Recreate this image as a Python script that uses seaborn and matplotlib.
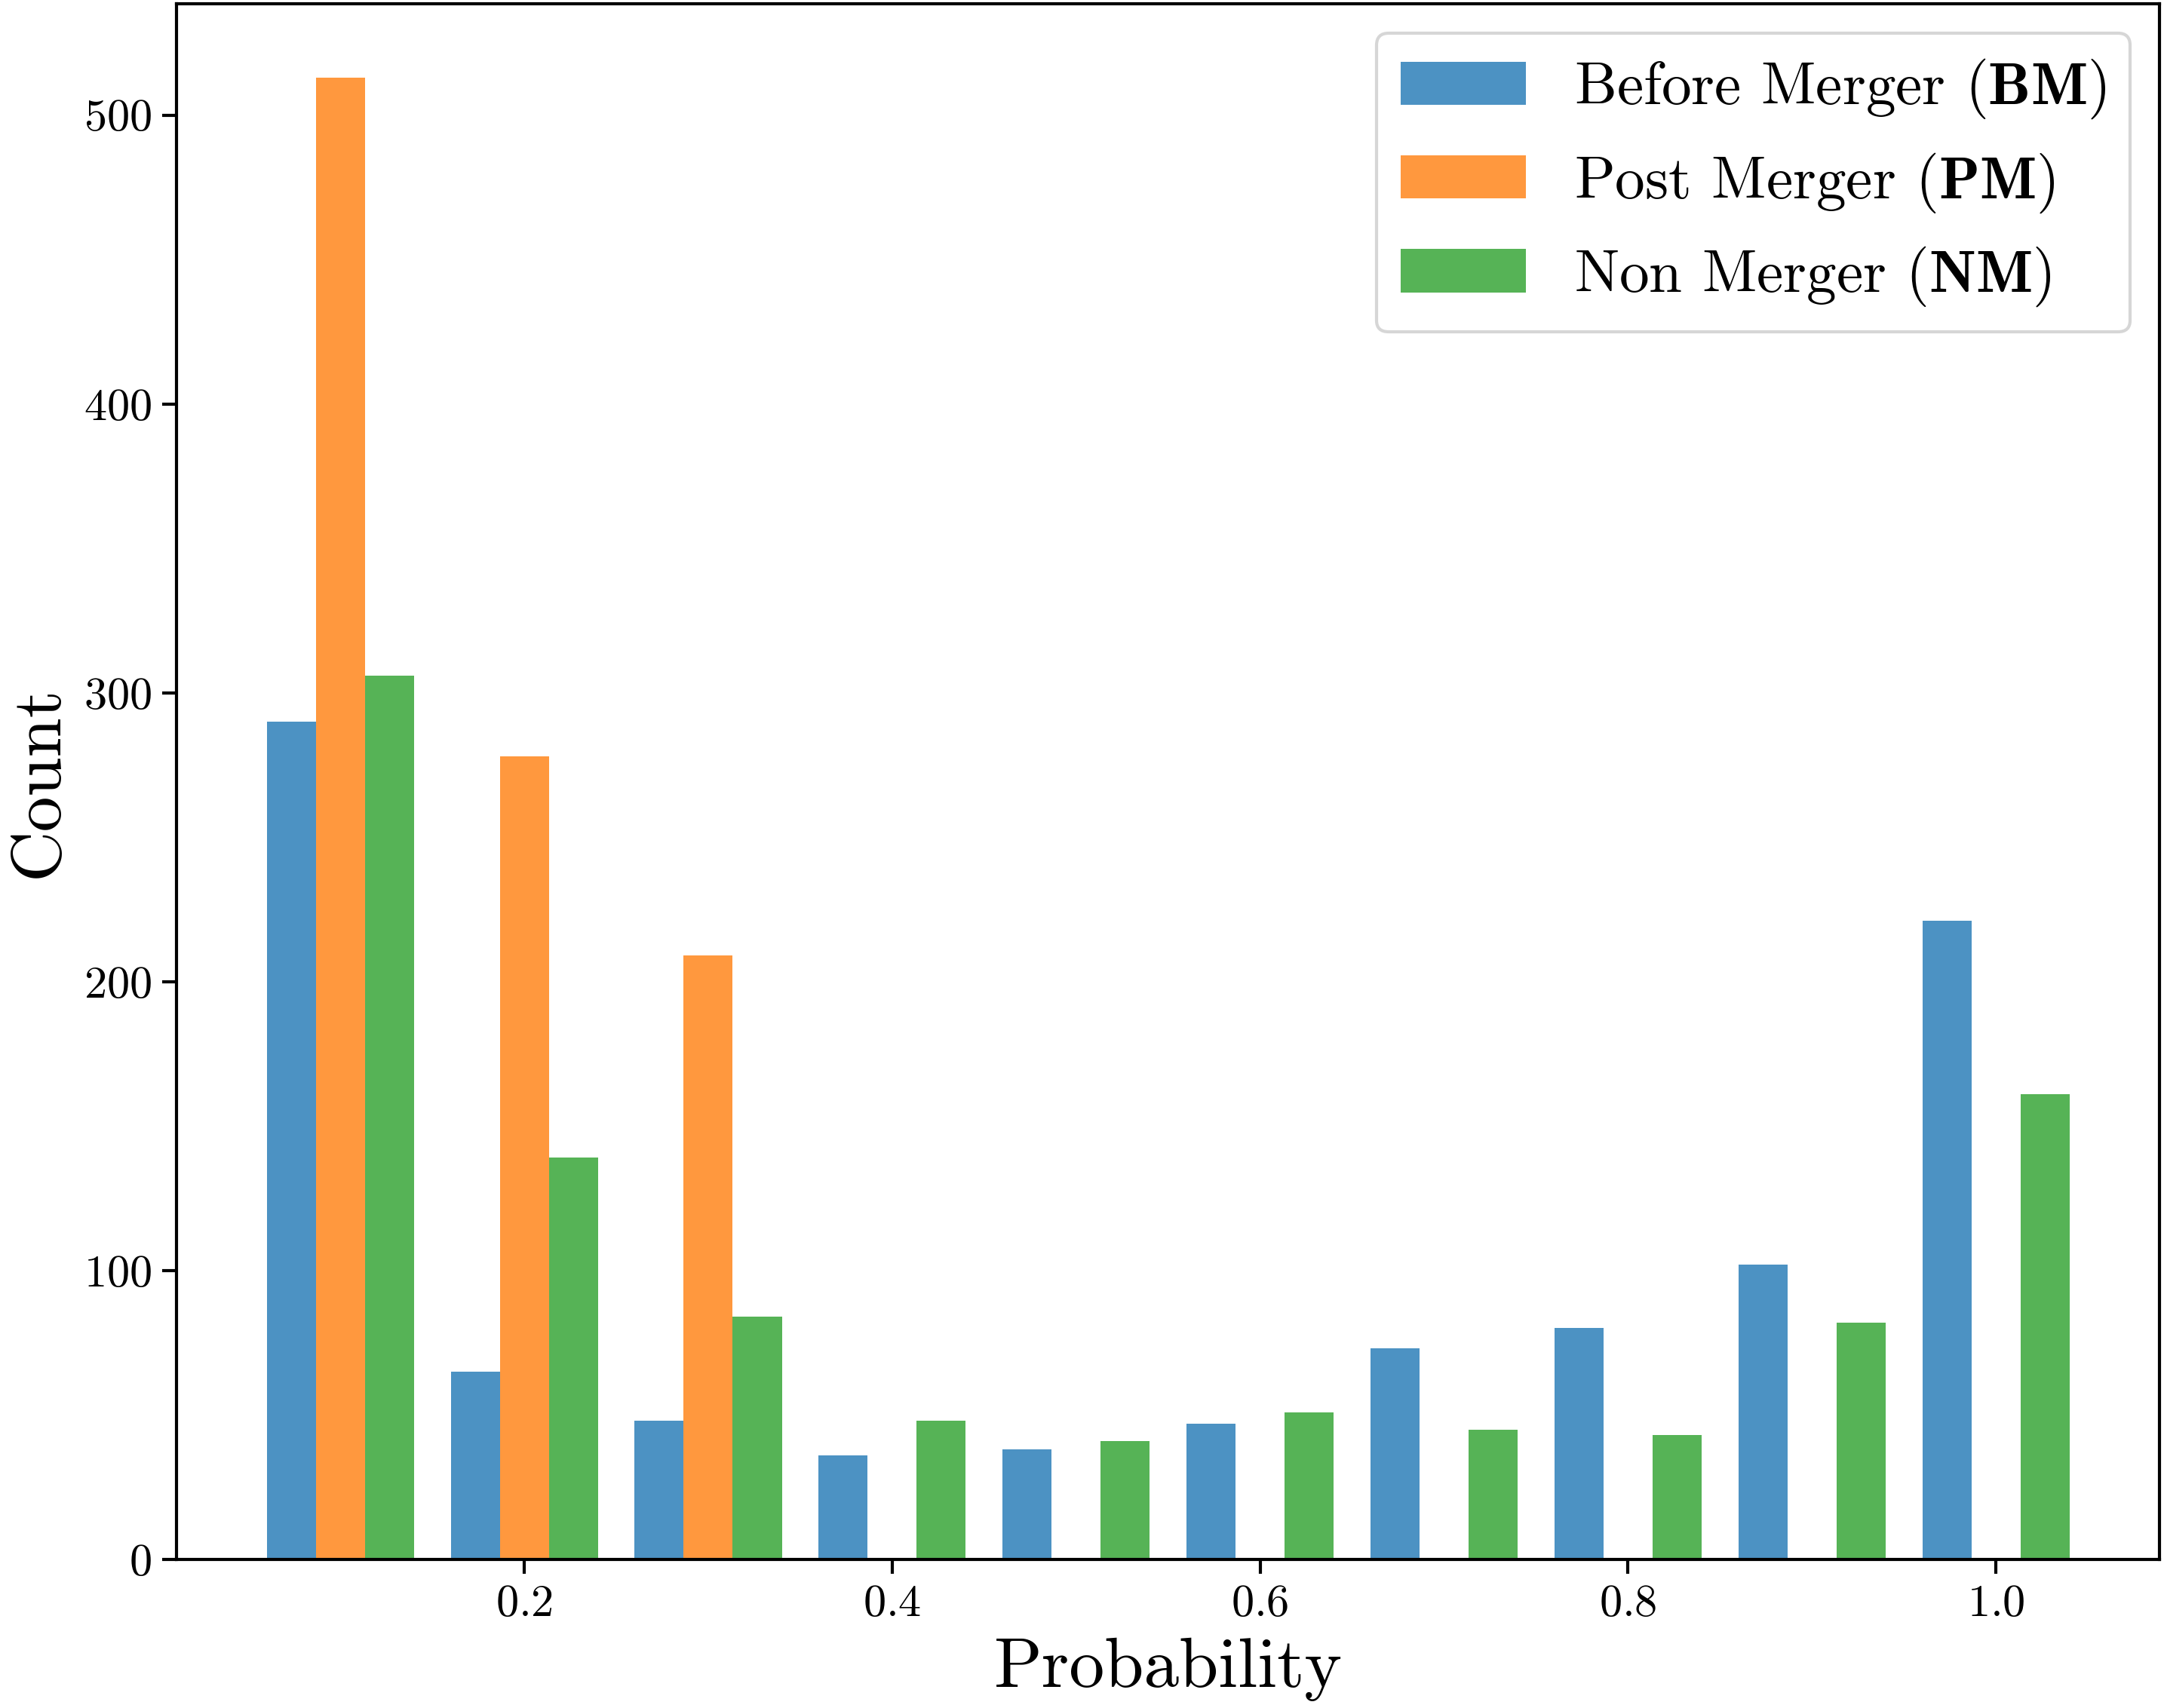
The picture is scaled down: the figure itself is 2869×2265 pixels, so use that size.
import pandas as pd
import seaborn as sns
import matplotlib.pyplot as plt

sns.set_style('ticks')
plt.rcParams['font.family'] = ['cmr10', 'DejaVu Serif']
plt.rcParams['mathtext.fontset'] = 'cm'
plt.rcParams['axes.unicode_minus'] = False
plt.rcParams['axes.formatter.use_mathtext'] = True
plt.rcParams['axes.edgecolor'] = 'black'
plt.rcParams['axes.linewidth'] = 1.0
plt.rcParams['xtick.color'] = 'black'
plt.rcParams['ytick.color'] = 'black'
plt.rcParams['text.color'] = 'black'
plt.rcParams['axes.labelcolor'] = 'black'

# bin centres of the probability histogram
probability = [0.1, 0.2, 0.3, 0.4, 0.5, 0.6, 0.7, 0.8, 0.9, 1.0]

# counts per bin
bm_counts = [290, 65, 48, 36, 38, 47, 73, 80, 102, 221]
pm_counts = [513, 278, 209, 0, 0, 0, 0, 0, 0, 0]
nm_counts = [306, 139, 84, 48, 41, 51, 45, 43, 82, 161]

labels = [r'Before Merger ($\mathbf{BM}$)',
          r'Post Merger ($\mathbf{PM}$)',
          r'Non Merger ($\mathbf{NM}$)']

df = pd.DataFrame({
    'Probability': probability * 3,
    'count': bm_counts + pm_counts + nm_counts,
    'group': [labels[0]] * 10 + [labels[1]] * 10 + [labels[2]] * 10,
})

fig, ax = plt.subplots(figsize=(2869 / 300, 2265 / 300), dpi=300)
fig.subplots_adjust(left=0.0816, right=0.998, bottom=0.087, top=0.998)

sns.histplot(data=df, x='Probability', weights='count', hue='group',
             hue_order=labels, binwidth=0.1, binrange=(0.05, 1.05),
             multiple='dodge', shrink=0.8, alpha=0.8, linewidth=0,
             palette=['#1f77b4', '#ff7f0e', '#2ca02c'], ax=ax)

ax.set_xlabel('Probability', fontsize=22.5, labelpad=4)
ax.set_ylabel('Count', fontsize=22.5)
ax.tick_params(labelsize=14.5, length=4.5, width=1.0)
ax.set_yticks([0, 100, 200, 300, 400, 500])
ax.set_xticks([0.2, 0.4, 0.6, 0.8, 1.0])

sns.move_legend(ax, 'upper right', title=None, fontsize=19, frameon=True,
                fancybox=True, edgecolor='0.8', framealpha=0.8,
                handlelength=2.1, handleheight=0.74, labelspacing=0.5)

fig.savefig('out.png', dpi=300)
